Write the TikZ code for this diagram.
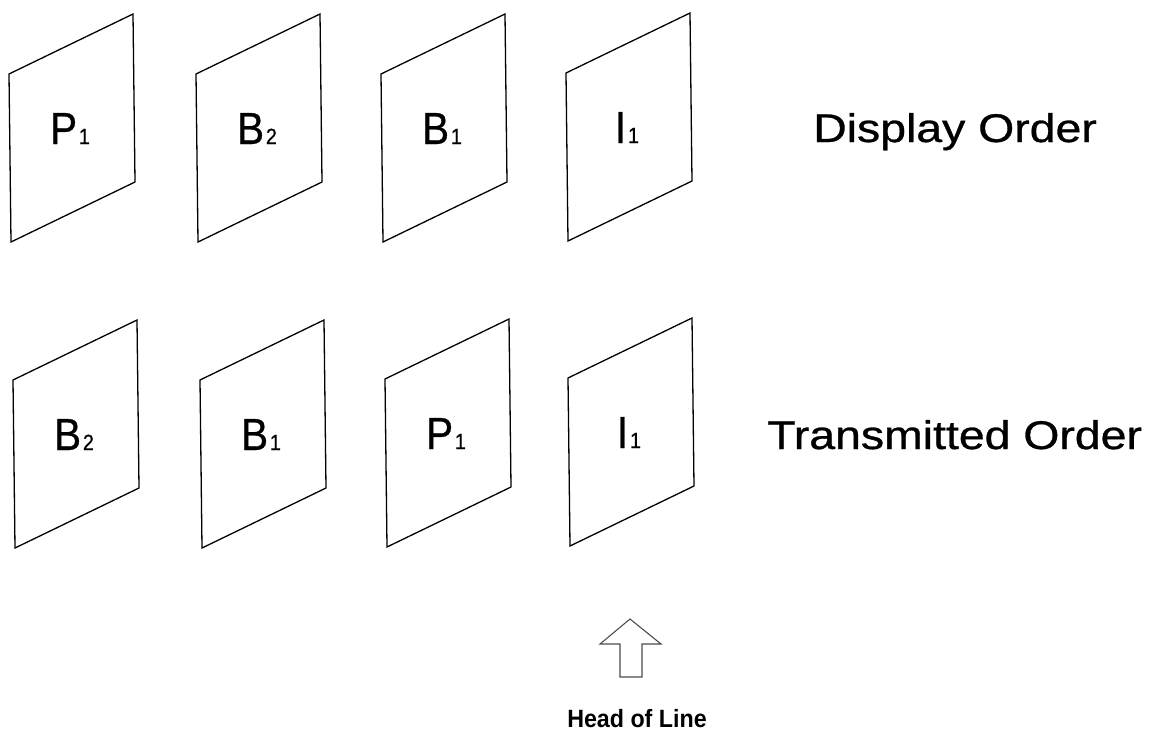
\documentclass[tikz,border=0pt]{standalone}
\usepackage{fontspec}
\setmainfont{Liberation Sans}
\newfontfamily\heavyfont[FakeBold=0.7]{Liberation Sans}
\newcommand\drawframe[5]{%
  \draw[frame] (#1,#2) -- (#1+124,#2-60) -- (#1+126,#2+108) -- (#1+2,#2+168) -- cycle;
  \node[lab] (#3) at (#1+61,#2+70) {#4\kern2pt{\fontsize{22}{22}\selectfont #5}};
}
\begin{document}
\begin{tikzpicture}[x=1pt,y=-1pt,
  frame/.style={draw=black, line width=1.3pt, line join=miter},
  lab/.style={anchor=base, inner sep=0pt, xscale=0.9, font=\heavyfont\fontsize{45}{45}\selectfont},
  order/.style={anchor=base west, inner sep=0pt, xscale=1.16, font=\heavyfont\fontsize{40}{40}\selectfont},
  hol/.style={anchor=base, inner sep=0pt, xscale=0.93, font=\bfseries\fontsize{25}{25}\selectfont},
  uparrow/.style={draw=black!70, line width=1.1pt, line join=miter}]
\useasboundingbox (0,0) rectangle (1160,742);
% display order row
\drawframe{9}{74}{t1}{P}{1}
\drawframe{196}{74}{t2}{B}{2}
\drawframe{381}{74}{t3}{B}{1}
\drawframe{566}{73}{t4}{I}{1}
\node[order] (disp) at (813,142) {Display Order};
% transmitted order row
\drawframe{13}{380}{b1}{B}{2}
\drawframe{200}{380}{b2}{B}{1}
\drawframe{385}{379}{b3}{P}{1}
\drawframe{568}{378}{b4}{I}{1}
\node[order] (trans) at (767,449) {Transmitted Order};
% head of line arrow
\draw[uparrow] (630,619) -- (661,644) -- (642,644) -- (642,677) -- (620,677) -- (620,644) -- (600,644) -- cycle;
\node[hol] (head) at (637,727) {Head of Line};
\end{tikzpicture}
\end{document}
